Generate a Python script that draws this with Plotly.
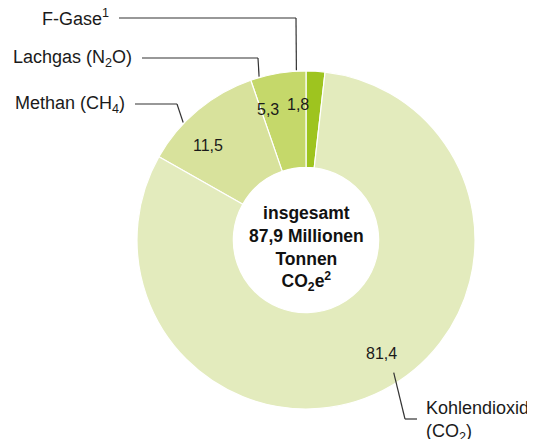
import math
import plotly.graph_objects as go

# data (order counter-clockwise from 12 o'clock)
labels = ["F-Gase", "Lachgas", "Methan", "Kohlendioxid"]
values = [1.8, 5.3, 11.5, 81.4]
value_text = ["1,8", "5,3", "11,5", "81,4"]
outer_labels = ["F-Gase<sup>1</sup>", "Lachgas (N<sub>2</sub>O)", "Methan (CH<sub>4</sub>)",
                "Kohlendioxid<br>(CO<sub>2</sub>)"]
colors = ["#9ec41f", "#c5d86a", "#d8e29c", "#e3ebbd"]
center_text = "<b>insgesamt<br>87,9 Millionen<br>Tonnen<br>CO<sub>2</sub>e<sup>2</sup></b>"

W, H = 535, 439
OFF = 8  # default page body margin
CX, CY, R = 306, 240, 169
HOLE = 0.43


def px(x):
    return (x - OFF) / W


def py(y):
    return 1 - (y - OFF) / H


fig = go.Figure(go.Pie(
    labels=labels, values=values, sort=False, direction="counterclockwise",
    rotation=0, hole=HOLE, textinfo="none", hoverinfo="label+value",
    marker=dict(colors=colors, line=dict(color="white", width=1.2)),
    domain=dict(x=[px(CX - R), px(CX + R)], y=[py(CY + R), py(CY - R)]),
    showlegend=False,
))

# mid-angle of each slice (degrees counter-clockwise from top)
total = sum(values)
mids = []
acc = 0
for v in values:
    mids.append((acc + v / 2) / total * 360)
    acc += v


def polar(angle, r):
    a = math.radians(angle)
    return CX - r * math.sin(a), CY - r * math.cos(a)


annotations = []
for t, a in zip(value_text, mids):
    x, y = polar(a, 136)
    annotations.append(dict(x=px(x), y=py(y), xref="paper", yref="paper", text=t,
                            xanchor="center", yanchor="middle",
                            showarrow=False, font=dict(size=16, color="#1a1a1a")))

annotations.append(dict(x=px(CX), y=py(CY + 8), xref="paper", yref="paper", text=center_text,
                        xanchor="center", yanchor="middle",
                        showarrow=False, font=dict(size=17.5, color="#111111")))

label_pos = [
    dict(tx=111, ty=18, lx0=119, ly=18, ex=296),
    dict(tx=134, ty=58, lx0=142, ly=58, ex=258),
    dict(tx=127, ty=104, lx0=135, ly=104, ex=177),
]
shapes = []
line_style = dict(color="#333333", width=1.2)
for i, lp in enumerate(label_pos):
    x_end, y_end = polar(mids[i], R + 1)
    shapes.append(dict(type="line", xref="paper", yref="paper", x0=px(lp["lx0"]), y0=py(lp["ly"]),
                       x1=px(lp["ex"]), y1=py(lp["ly"]), line=line_style))
    shapes.append(dict(type="line", xref="paper", yref="paper", x0=px(lp["ex"]), y0=py(lp["ly"]),
                       x1=px(x_end), y1=py(y_end), line=line_style))
    annotations.append(dict(x=px(lp["tx"]), y=py(lp["ty"]), xref="paper", yref="paper",
                            text=outer_labels[i], showarrow=False, xanchor="right", yanchor="middle",
                            font=dict(size=18, color="#1a1a1a")))

# CO2 label
x_end, y_end = polar(mids[3], R - 10)
shapes.append(dict(type="line", xref="paper", yref="paper", x0=px(x_end), y0=py(y_end),
                   x1=px(405), y1=py(419), line=line_style))
shapes.append(dict(type="line", xref="paper", yref="paper", x0=px(405), y0=py(419),
                   x1=px(417), y1=py(419), line=line_style))
annotations.append(dict(x=px(424), y=py(421), xref="paper", yref="paper", text=outer_labels[3],
                        showarrow=False, xanchor="left", yanchor="middle", align="left",
                        font=dict(size=18, color="#1a1a1a")))

fig.update_layout(
    width=W, height=H, margin=dict(l=0, r=0, t=0, b=0),
    paper_bgcolor="white", plot_bgcolor="white",
    font=dict(family="Liberation Sans, Arial, sans-serif"),
    annotations=annotations, shapes=shapes,
)
fig.write_html("out.html")
